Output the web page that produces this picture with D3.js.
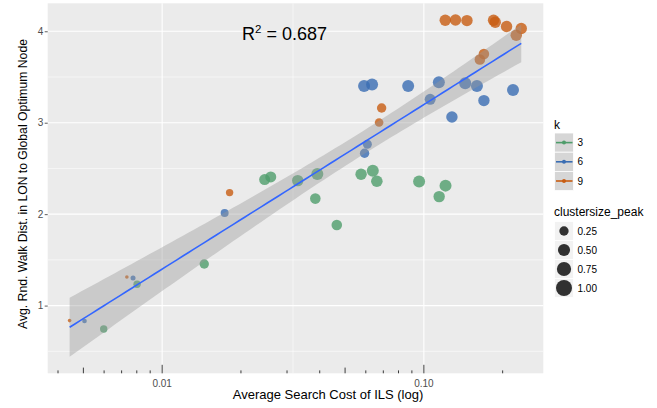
<!DOCTYPE html>
<html><head><meta charset="utf-8">
<script src="https://cdn.jsdelivr.net/npm/d3@7"></script>
<style>
html,body{margin:0;padding:0;background:#fff;}
text{font-family:"Liberation Sans",Arial,Helvetica,sans-serif;}
</style></head>
<body><svg id="c" width="657" height="408"></svg>
<script>
// ---- data ----
const kLevels = ["3","6","9"];
const kColors = ["#4F9D6B","#3A6DB3","#C85D12"];
// k = 3
const cost3 = [0.00598,0.00802,0.01448,0.02464,0.0260,0.03296,0.03917,0.03848,0.04648,0.05756,0.06381,0.06612,0.0959,0.1210,0.1144];
const dist3 = [0.744,1.233,1.455,2.378,2.407,2.367,2.439,2.170,1.882,2.436,2.474,2.360,2.356,2.312,2.192];
const size3 = [0.126,0.126,0.255,0.39,0.39,0.43,0.49,0.354,0.354,0.43,0.49,0.45,0.49,0.49,0.43];
// k = 6
const cost6 = [0.00505,0.00774,0.01733,0.05935,0.06083,0.0591,0.0634,0.0871,0.1057,0.1141,0.128,0.1439,0.1595,0.1696,0.2191];
const dist6 = [0.832,1.302,2.013,2.666,2.764,3.402,3.417,3.402,3.256,3.442,3.063,3.431,3.402,3.242,3.358];
const size6 = [0.021,0.031,0.16,0.255,0.226,0.49,0.49,0.49,0.39,0.49,0.43,0.49,0.49,0.43,0.49];
// k = 9
const cost9 = [0.00443,0.00733,0.0181,0.06745,0.06896,0.1637,0.1696,0.1207,0.1321,0.1461,0.1846,0.1874,0.2070,0.2254,0.2356];
const dist9 = [0.836,1.313,2.236,3.002,3.161,3.691,3.752,4.120,4.124,4.117,4.120,4.099,4.052,3.956,4.030];
const size9 = [0.005,0.005,0.126,0.198,0.255,0.354,0.354,0.43,0.43,0.43,0.43,0.43,0.43,0.43,0.43];

const yTicks = [1,2,3,4];
const yMinor = [0.5,1.5,2.5,3.5];
const xTicks = [0.01,0.1];
const xTickLabels = ["0.01","0.10"];
const xMinorGrid = [Math.pow(10,-1.5)];
const sizeBreaks = [0.25,0.50,0.75,1.00];
const sizeLabels = ["0.25","0.50","0.75","1.00"];
const r2Label = "0.687";
const xTitle = "Average Search Cost of ILS (log)";
const yTitle = "Avg. Rnd. Walk Dist. in LON to Global Optimum Node";

// ---- build ----
const pts = [];
[[cost3,dist3,size3],[cost6,dist6,size6],[cost9,dist9,size9]].forEach((s,gi)=>{
  s[0].forEach((c,i)=>pts.push({x:c,y:s[1][i],s:s[2][i],k:gi}));
});

const svg = d3.select("#c");
const P = {l:47.7,r:543.3,t:3.3,b:373.3};
const x = d3.scaleLog().domain([0.003653,0.286]).range([P.l,P.r]);
const y = d3.scaleLinear().domain([0.2595,4.306]).range([P.b,P.t]);
const rPal = d3.scaleLinear().domain([0,1]).range([1.333,8]);
const rOf = v => rPal(Math.sqrt(Math.max(0,v)));

// panel
svg.append("rect").attr("x",P.l).attr("y",P.t).attr("width",P.r-P.l).attr("height",P.b-P.t).attr("fill","#EBEBEB");
const g = svg.append("g");
yMinor.forEach(v=>g.append("line").attr("x1",P.l).attr("x2",P.r).attr("y1",y(v)).attr("y2",y(v)).attr("stroke","#fff").attr("stroke-width",0.55));
xMinorGrid.forEach(v=>g.append("line").attr("y1",P.t).attr("y2",P.b).attr("x1",x(v)).attr("x2",x(v)).attr("stroke","#fff").attr("stroke-width",0.55));
yTicks.forEach(v=>g.append("line").attr("x1",P.l).attr("x2",P.r).attr("y1",y(v)).attr("y2",y(v)).attr("stroke","#fff").attr("stroke-width",1.1));
xTicks.forEach(v=>g.append("line").attr("y1",P.t).attr("y2",P.b).attr("x1",x(v)).attr("x2",x(v)).attr("stroke","#fff").attr("stroke-width",1.1));

// regression (lm on log10 x)
const X = pts.map(d=>Math.log10(d.x)), Y = pts.map(d=>d.y), n = pts.length;
const xb = d3.mean(X), yb = d3.mean(Y);
let sxx=0,sxy=0; X.forEach((v,i)=>{sxx+=(v-xb)*(v-xb); sxy+=(v-xb)*(Y[i]-yb);});
const b = sxy/sxx, a = yb-b*xb;
let sse=0; X.forEach((v,i)=>{const e=Y[i]-(a+b*v); sse+=e*e;});
const s = Math.sqrt(sse/(n-2)), tq = 2.0167;
const lo = d3.min(X), hi = d3.max(X);
const band = d3.range(0,81).map(i=>{const v=lo+(hi-lo)*i/80; const f=a+b*v; const se=s*Math.sqrt(1/n+(v-xb)*(v-xb)/sxx); return {v,f,l:f-tq*se,u:f+tq*se};});

// points
g.selectAll("circle.pt").data(pts).join("circle").attr("class","pt")
 .attr("cx",d=>x(d.x)).attr("cy",d=>y(d.y)).attr("r",d=>rOf(d.s))
 .attr("fill",d=>kColors[d.k]).attr("fill-opacity",0.8);

g.append("path").datum(band).attr("fill","#999999").attr("fill-opacity",0.4)
 .attr("d",d3.area().x(d=>x(Math.pow(10,d.v))).y0(d=>y(d.l)).y1(d=>y(d.u)));
g.append("path").datum(band).attr("fill","none").attr("stroke","#3366FF").attr("stroke-width",1.6)
 .attr("d",d3.line().x(d=>x(Math.pow(10,d.v))).y(d=>y(d.f)));

// log ticks (bottom, inside)
const lt = [];
for(let e=-3;e<=0;e++){for(let m=1;m<=9;m++){const v=m*Math.pow(10,e); if(v>=x.domain()[0]&&v<=x.domain()[1]) lt.push({v,len:m===1?8.5:(m===5?5.7:2.9)});}}
g.selectAll("line.lt").data(lt).join("line").attr("class","lt")
 .attr("x1",d=>x(d.v)).attr("x2",d=>x(d.v)).attr("y1",P.b).attr("y2",d=>P.b-d.len)
 .attr("stroke","#000").attr("stroke-width",0.75);

// axes labels
xTicks.forEach((v,i)=>svg.append("text").attr("x",x(v)).attr("y",387).attr("text-anchor","middle")
 .attr("font-size",10).attr("fill","#4D4D4D").text(xTickLabels[i]));
const yAxis = d3.axisLeft(y).tickValues(yTicks).tickSize(3).tickPadding(1.5).tickFormat(d3.format("d"));
const ya = svg.append("g").attr("transform",`translate(${P.l},0)`).call(yAxis);
ya.select(".domain").remove();
ya.selectAll("line").attr("stroke","#333").attr("stroke-width",0.8);
ya.selectAll("text").attr("font-size",10).attr("fill","#4D4D4D").attr("font-family","Liberation Sans, Arial, sans-serif");

svg.append("text").attr("x",328).attr("y",399).attr("text-anchor","middle").attr("font-size",13).attr("fill","#000").text(xTitle);
svg.append("text").attr("transform",`translate(26.5,184) rotate(-90)`).attr("text-anchor","middle").attr("font-size",12.2).attr("fill","#000").text(yTitle);

// R2
const rt = svg.append("text").attr("x",242).attr("y",40).attr("font-size",18).attr("fill","#000");
rt.append("tspan").text("R");
rt.append("tspan").attr("font-size",11.5).attr("dy",-7.5).text("2");
rt.append("tspan").attr("dy",7.5).text(" = "+r2Label);

// legend k
svg.append("text").attr("x",554).attr("y",129).attr("font-size",12).text("k");
kLevels.forEach((k,i)=>{
  const yy = 133+i*19.2;
  svg.append("rect").attr("x",554.5).attr("y",yy).attr("width",19).attr("height",19.2).attr("fill","#D6D6D6").attr("stroke","#fff").attr("stroke-width",0.8);
  svg.append("line").attr("x1",556).attr("x2",572.5).attr("y1",yy+9.6).attr("y2",yy+9.6).attr("stroke",kColors[i]).attr("stroke-width",1.6);
  svg.append("circle").attr("cx",564).attr("cy",yy+9.6).attr("r",2).attr("fill",kColors[i]);
  svg.append("text").attr("x",577.5).attr("y",yy+9.6).attr("dy","0.35em").attr("font-size",10).text(k);
});
// legend size
svg.append("text").attr("x",554).attr("y",216).attr("font-size",12).text("clustersize_peak");
sizeBreaks.forEach((v,i)=>{
  const yy = 221.5+i*19;
  svg.append("rect").attr("x",554.5).attr("y",yy).attr("width",19).attr("height",19).attr("fill","#F2F2F2").attr("stroke","#fff").attr("stroke-width",0.8);
  svg.append("circle").attr("cx",564).attr("cy",yy+9.5).attr("r",rOf(v)).attr("fill","#000").attr("fill-opacity",0.8);
  svg.append("text").attr("x",577.5).attr("y",yy+9.5).attr("dy","0.35em").attr("font-size",10).attr("fill","#000").text(sizeLabels[i]);
});
</script></body></html>
